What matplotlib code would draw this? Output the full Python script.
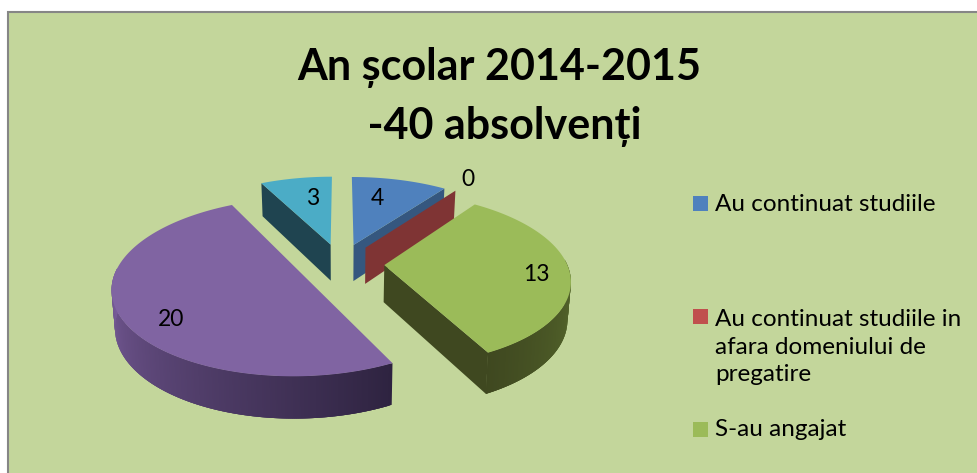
import numpy as np
import matplotlib
matplotlib.use('Agg')
import matplotlib.pyplot as plt
from matplotlib.patches import Rectangle
from matplotlib.colors import to_rgb

plt.rcParams['font.family'] = ['Lato', 'Open Sans', 'DejaVu Sans']

legend_labels = ['Au continuat studiile', 'Au continuat studiile in\nafara domeniului de\npregatire',
                 'S-au angajat']
values = [4, 0, 13, 20, 3]
title = 'An școlar 2014-2015\n -40 absolvenți'

top_colors = ['#4F81BD', '#C0504D', '#9BBB59', '#8064A2', '#4BACC6']
wall_colors = ['#35577F', '#7F3434', '#3F4820', '#2E2340', '#1F4450']

# projection of the tilted pie, fitted to the picture (pixels)
cx, cy = 340.5, 263.5
a, b, k = 182.5, 84, 0.157
explode = 0.24
depth = 37


def project(x, y, low=False):
    w = 1 + k * y
    sx = a * x / w
    sy = cy - b * y / w
    if low:
        return cx + sx * 0.985, sy + depth / w ** 0.7
    return cx + sx, sy


def slice_pts(start, end, mid, low=False):
    t = np.radians(np.linspace(start, end, max(int(end - start) * 2, 2)))
    ox, oy = explode * np.sin(np.radians(mid)), explode * np.cos(np.radians(mid))
    return project(ox + np.sin(t), oy + np.cos(t), low), project(ox, oy, low)


fig = plt.figure(figsize=(9.78, 4.73), dpi=100)
ax = fig.add_axes([0, 0, 1, 1])
ax.set_xlim(0, 978)
ax.set_ylim(473, 0)
ax.axis('off')
ax.add_patch(Rectangle((8, 12.5), 1000, 500, facecolor='#C3D69B', edgecolor='#868686', lw=1.5))

total = sum(values)
angles = np.cumsum([0] + values) * 360 / total
starts, ends = angles[:-1], angles[1:]
mids = (starts + ends) / 2


def cut_face(angle, mid, color, z):
    # flat wall along the cut edge of a slice
    (ox, oy) = explode * np.sin(np.radians(mid)), explode * np.cos(np.radians(mid))
    t = np.radians(angle)
    p1 = project(ox, oy)
    p2 = project(ox + np.sin(t), oy + np.cos(t))
    p3 = project(ox + np.sin(t), oy + np.cos(t), True)
    p4 = project(ox, oy, True)
    ax.fill([p1[0], p2[0], p3[0], p4[0]], [p1[1], p2[1], p3[1], p4[1]], color=color, lw=0, zorder=z)


def rim(start, end, mid, c0, c1, z):
    # outer side of a slice, shaded in short overlapping strips
    (xs, ys), _ = slice_pts(start, end, mid)
    (xl, yl), _ = slice_pts(start, end, mid, True)
    c0, c1 = np.array(to_rgb(c0)), np.array(to_rgb(c1))
    n = len(xs) - 1
    for i in range(n):
        f = i / n
        j = min(i + 3, n)
        ax.fill([xs[i], xs[j], xl[j], xl[i]], [ys[i], ys[j], yl[j], yl[i]],
                color=c0 + (c1 - c0) * f, lw=0, zorder=z)


def top(i, z):
    (xs, ys), (tx, ty) = slice_pts(starts[i], ends[i], mids[i])
    ax.fill(np.r_[tx, xs], np.r_[ty, ys], color=top_colors[i], lw=0, zorder=z)


# far slices first
cut_face(starts[4], mids[4], wall_colors[4], 2)
top(4, 3)
cut_face(ends[0], mids[0], wall_colors[0], 2)
top(0, 3)
cut_face(starts[1], mids[1], wall_colors[1], 4)
cut_face(ends[2], mids[2], wall_colors[2], 5)
rim(starts[2] + 50, ends[2], mids[2], '#5A6E2E', '#3F4820', 5)
top(2, 6)
rim(starts[3], ends[3] - 60, mids[3], '#2E2340', '#7C5F9E', 7)
top(3, 8)

# data labels
label_xy = [(377, 198), (468, 179), (536, 274), (171, 319), (313, 198)]
for v, (lx, ly) in zip(values, label_xy):
    ax.text(lx, ly, str(v), fontsize=16.5, color='black', ha='center', va='center', zorder=10)

ax.text(499, 97, title, fontsize=31, fontweight='bold', color='black', ha='center', va='center',
        linespacing=1.53, zorder=10)

# legend, only three entries fit in the picture
legend_y = [203.5, 316.5, 429.5]
legend_text_y = [204, 347, 429]
for i in range(3):
    ax.add_patch(Rectangle((693, legend_y[i] - 7.5), 15, 15, facecolor=top_colors[i], lw=0, zorder=10))
    ax.text(715, legend_text_y[i], legend_labels[i], fontsize=17.5, color='black', ha='left', va='center',
            linespacing=1.41, zorder=10)

fig.savefig('out.png', dpi=100)
